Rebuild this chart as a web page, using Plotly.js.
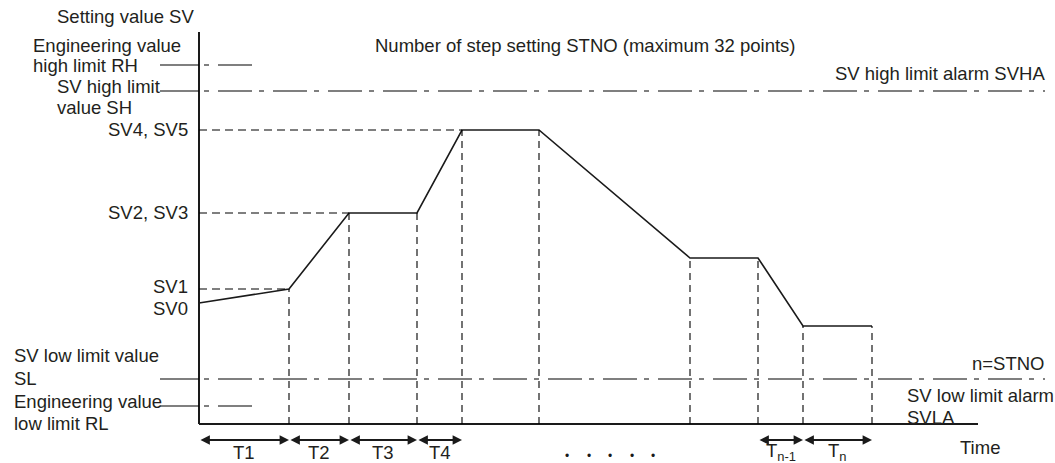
<!DOCTYPE html>
<html>
<head>
<meta charset="utf-8">
<script src="https://cdn.plot.ly/plotly-3.0.1.min.js"></script>
<style>html,body{margin:0;padding:0;background:#fff;}#chart{width:1055px;height:463px;}</style>
</head>
<body>
<div id="chart"></div>
<script>
// ---- data (time and setting value units) ----
const stepTimes = [0, 90, 150, 218, 263, 340, 491, 559, 604, 673];
const stepValues = [121, 135, 211, 211, 294, 294, 166, 166, 98, 98];
const levelIdx = [1, 2, 4];                 // points whose level is marked on the SV axis
const levelLabels = ['SV1', 'SV2, SV3', 'SV4, SV5'];
const intervalStarts = [0, 1, 2, 3, 7, 8];  // indices of intervals with arrows
const intervalLabels = ['T1', 'T2', 'T3', 'T4', 'T<sub>n-1</sub>', 'T<sub>n</sub>'];
const RH = 359, SH = 333, SL = 45, RL = 18;
const axisTop = 392, axisEnd = 779;

const FONT = {family: 'Liberation Sans, Arial, sans-serif', size: 18.5, color: '#231f20'};
const INK = '#1a1a1a';
const shapes = [];
const annotations = [];

// axes
shapes.push({type: 'line', x0: 0, x1: 0, y0: 0, y1: axisTop, line: {color: INK, width: 2}});
shapes.push({type: 'line', x0: 0, x1: axisEnd, y0: 0, y1: 0, line: {color: INK, width: 2}});

// horizontal dashed level lines
levelIdx.forEach(i => {
  shapes.push({type: 'line', x0: 0, x1: stepTimes[i], y0: stepValues[i], y1: stepValues[i],
    line: {color: '#000', width: 1.1, dash: '8px,5px'}});
});
// vertical dashed lines
for (let i = 1; i < stepTimes.length; i++) {
  shapes.push({type: 'line', x0: stepTimes[i], x1: stepTimes[i], y0: 0, y1: stepValues[i],
    line: {color: '#000', width: 1.1, dash: '7px,5px'}});
}
// limit lines
const limits = [[RH, 53], [SH, 846], [SL, 846], [RL, 53]];
limits.forEach(([v, end]) => {
  shapes.push({type: 'line', x0: -39, x1: 0, y0: v, y1: v, line: {color: '#000', width: 1.1}});
  shapes.push({type: 'line', x0: 5, x1: end, y0: v, y1: v,
    line: {color: '#000', width: 1.1, dash: '5px,9px,34px,7px'}});
});

// interval arrows
const arrowY = -16;
intervalStarts.forEach((i, k) => {
  annotations.push({x: stepTimes[i + 1], y: arrowY, ax: stepTimes[i], ay: arrowY,
    xref: 'x', yref: 'y', axref: 'x', ayref: 'y', text: '', showarrow: true,
    arrowhead: 2, startarrowhead: 2, arrowside: 'end+start', arrowwidth: 2.2,
    arrowsize: 0.85, startarrowsize: 0.85, standoff: 0, startstandoff: 0, arrowcolor: INK});
  annotations.push({x: (stepTimes[i] + stepTimes[i + 1]) / 2, y: -28, xref: 'x', yref: 'y',
    text: intervalLabels[k], showarrow: false, font: FONT, xanchor: 'center', yanchor: 'middle'});
});

// level labels
levelIdx.forEach((i, k) => {
  annotations.push({x: -9, y: stepValues[i] + (k === 0 ? 3 : 1), xref: 'x', yref: 'y', text: levelLabels[k],
    showarrow: false, font: FONT, xanchor: 'right', yanchor: 'middle'});
});
annotations.push({x: -9, y: stepValues[0] - 5, xref: 'x', yref: 'y', text: 'SV0',
  showarrow: false, font: FONT, xanchor: 'right', yanchor: 'middle'});

function txt(t, x, y, xa) {
  annotations.push({x: x, y: y, xref: 'x', yref: 'y', text: t, showarrow: false, font: FONT,
    xanchor: xa, yanchor: 'middle'});
}
txt('Setting value SV', -144, 408, 'left');
txt('Engineering value', -168, 379, 'left');
txt('high limit RH', -168, 359, 'left');
txt('SV high limit', -144, 338, 'left');
txt('value SH', -144, 317, 'left');
txt('SV low limit value', -187, 69, 'left');
txt('SL', -187, 46, 'left');
txt('Engineering value', -187, 23, 'left');
txt('low limit RL', -187, 1, 'left');
txt('Number of step setting STNO (maximum 32 points)', 174, 379, 'left');
txt('SV high limit alarm SVHA', 848, 351, 'right');
txt('n=STNO', 847, 61, 'right');
txt('SV low limit alarm', 706, 29, 'left');
txt('SVLA', 706, 7, 'left');
txt('Time', 759, -23, 'left');

// ellipsis dots
for (let k = 0; k < 5; k++) {
  annotations.push({x: 368 + k * 21.5, y: -32, xref: 'x', yref: 'y', text: '•', showarrow: false,
    font: {family: FONT.family, size: 12, color: INK}, xanchor: 'center', yanchor: 'middle'});
}

const trace = {x: stepTimes, y: stepValues, type: 'scatter', mode: 'lines',
  line: {color: INK, width: 1.6}, hoverinfo: 'skip'};

const layout = {
  width: 1055, height: 463,
  margin: {l: 0, r: 0, t: 0, b: 0},
  paper_bgcolor: '#ffffff', plot_bgcolor: '#ffffff',
  showlegend: false,
  xaxis: {range: [-199, 856], visible: false, showgrid: false, zeroline: false, fixedrange: true},
  yaxis: {range: [-39, 424], visible: false, showgrid: false, zeroline: false, fixedrange: true},
  shapes: shapes,
  annotations: annotations
};
Plotly.newPlot('chart', [trace], layout, {displayModeBar: false, staticPlot: true});
</script>
</body>
</html>
